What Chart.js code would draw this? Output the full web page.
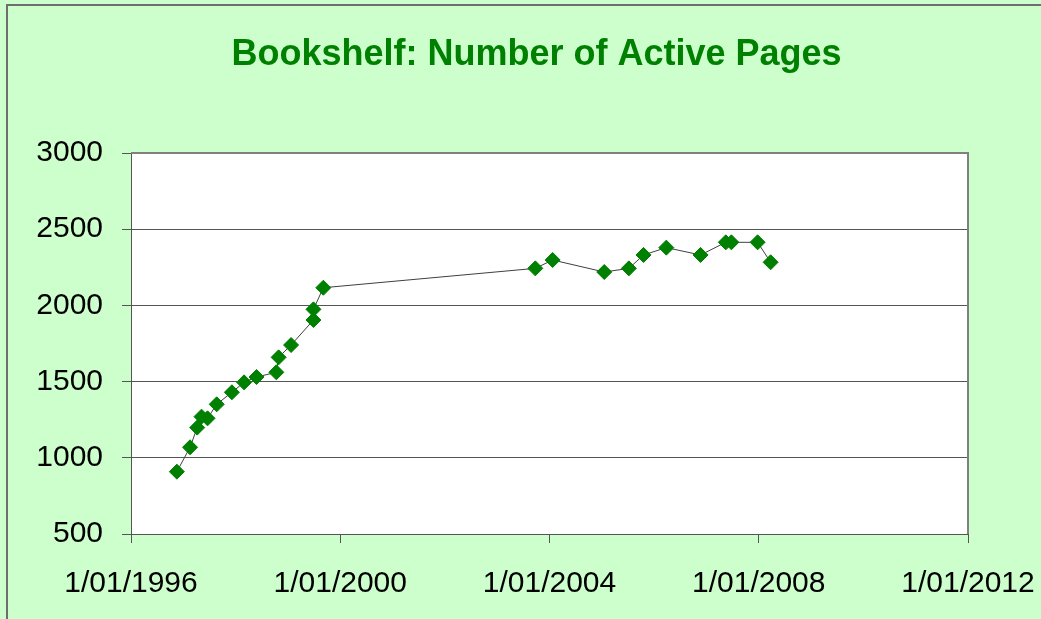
<!DOCTYPE html>
<html>
<head>
<meta charset="utf-8">
<script src="https://cdn.jsdelivr.net/npm/chart.js@4/dist/chart.umd.min.js"></script>
<style>
  html, body { margin: 0; padding: 0; background: #CCFFCC; }
  #wrap { width: 1041px; height: 619px; position: relative; }
</style>
</head>
<body>
<div id="wrap"><canvas id="c" width="1041" height="619"></canvas></div>
<script>
const chartTitle = 'Bookshelf: Number of Active Pages';

const dates = [
  '1996-11-17', '1997-02-17', '1997-04-08', '1997-05-08', '1997-06-19',
  '1997-08-22', '1997-12-06', '1998-03-01', '1998-05-27', '1998-10-12',
  '1998-10-28', '1999-01-23', '1999-06-28', '1999-06-28', '1999-09-05',
  '2003-09-24', '2004-01-23', '2005-01-18', '2005-07-09', '2005-10-19',
  '2006-03-27', '2006-11-21', '2007-05-16', '2007-06-24', '2007-12-24',
  '2008-03-24'
];

// Number of active pages
const activePages = [
  909, 1069, 1198, 1270, 1259,
  1351, 1430, 1495, 1530, 1561,
  1659, 1740, 1904, 1974, 2116,
  2243, 2298, 2219, 2243, 2331,
  2379, 2331, 2414, 2414, 2414,
  2283
];

// Axis ticks
const xTickYears = [1996, 2000, 2004, 2008, 2012];
const yTicks = [500, 1000, 1500, 2000, 2500, 3000];

function toYear(s) {
  const d = new Date(s + 'T00:00:00Z');
  const y = d.getUTCFullYear();
  const start = Date.UTC(y, 0, 1), end = Date.UTC(y + 1, 0, 1);
  return y + (d.getTime() - start) / (end - start);
}

const points = dates.map((d, i) => ({ x: toYear(d), y: activePages[i] }));

const bgPlugin = {
  id: 'bg',
  beforeDraw(chart) {
    const ctx = chart.ctx;
    ctx.save();
    ctx.fillStyle = '#CCFFCC';
    ctx.fillRect(0, 0, chart.width, chart.height);
    // outer frame (top & left visible)
    ctx.strokeStyle = '#6e6e6e';
    ctx.lineWidth = 2;
    ctx.beginPath();
    ctx.moveTo(7, chart.height + 2);
    ctx.lineTo(7, 5);
    ctx.lineTo(chart.width + 2, 5);
    ctx.stroke();
    // plot area
    const a = chart.chartArea;
    ctx.fillStyle = '#FFFFFF';
    ctx.fillRect(a.left, a.top, a.right - a.left, a.bottom - a.top);
    ctx.restore();
  },
  beforeDatasetsDraw(chart) {
    const ctx = chart.ctx;
    const a = chart.chartArea;
    ctx.save();
    ctx.strokeStyle = '#808080';
    ctx.lineWidth = 2;
    ctx.beginPath();
    ctx.moveTo(a.left, a.top);
    ctx.lineTo(a.right, a.top);
    ctx.lineTo(a.right, a.bottom);
    ctx.stroke();
    ctx.restore();
  }
};

const FONT = '"Liberation Sans", Arial, sans-serif';

new Chart(document.getElementById('c'), {
  type: 'scatter',
  data: {
    datasets: [{
      label: 'Active pages',
      data: points,
      showLine: true,
      borderColor: '#404040',
      borderWidth: 1,
      pointStyle: 'rectRot',
      pointRadius: 7.5,
      pointHoverRadius: 7.5,
      pointBackgroundColor: '#008000',
      pointBorderColor: '#008000',
      pointBorderWidth: 1
    }]
  },
  options: {
    responsive: false,
    animation: false,
    devicePixelRatio: 1,
    layout: { padding: { left: 32, right: 0, top: 0, bottom: 0 } },
    plugins: {
      legend: { display: false },
      tooltip: { enabled: false },
      title: {
        display: true,
        text: chartTitle,
        color: '#008000',
        font: { family: FONT, size: 36, weight: 'bold', lineHeight: 1.2 },
        padding: { top: 33.4, bottom: 76.4 }
      }
    },
    scales: {
      x: {
        type: 'linear',
        min: 1996,
        max: 2012,
        afterFit(scale) { scale.height = 85; scale.paddingRight = 73; scale.paddingLeft = 0; },
        afterBuildTicks(scale) { scale.ticks = xTickYears.map(v => ({ value: v })); },
        ticks: {
          color: '#000',
          font: { family: FONT, size: 30 },
          padding: 23,
          maxRotation: 0,
          autoSkip: false,
          callback: v => '1/01/' + v
        },
        grid: {
          drawOnChartArea: false,
          drawTicks: true,
          tickLength: 9,
          color: '#555',
          lineWidth: 1
        },
        border: { display: true, color: '#555', width: 1 }
      },
      y: {
        min: 500,
        max: 3000,
        afterFit(scale) { scale.width = 99; },
        afterBuildTicks(scale) { scale.ticks = yTicks.map(v => ({ value: v })); },
        ticks: {
          color: '#000',
          font: { family: FONT, size: 30 },
          padding: 19,
          autoSkip: false,
          callback: v => String(v)
        },
        grid: {
          color: '#555',
          lineWidth: 1,
          tickLength: 9,
          drawTicks: true
        },
        border: { display: true, color: '#555', width: 1 }
      }
    }
  },
  plugins: [bgPlugin]
});
</script>
</body>
</html>
